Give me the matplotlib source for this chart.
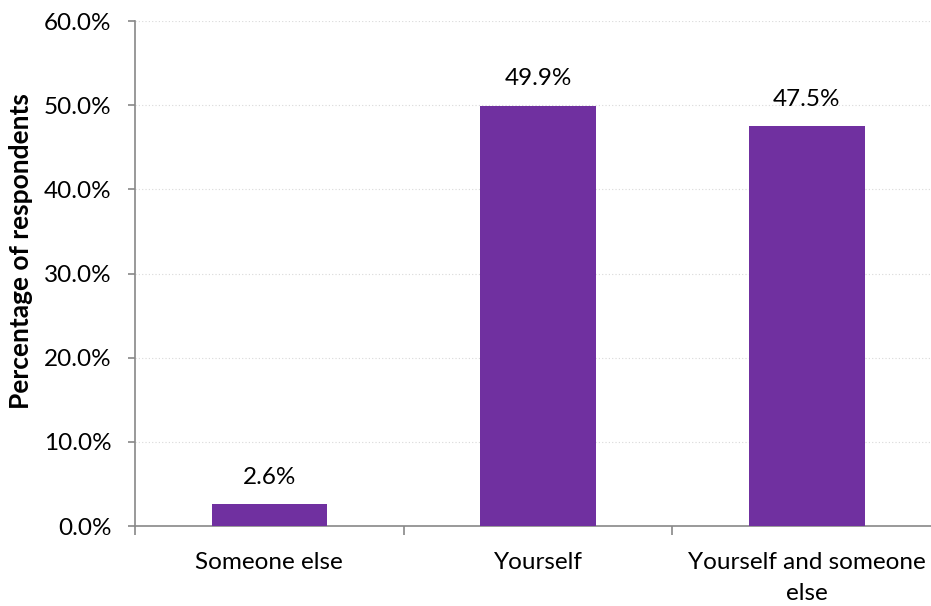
import matplotlib.pyplot as plt
from matplotlib.ticker import FuncFormatter, FixedLocator

categories = ["Someone else", "Yourself", "Yourself and someone\nelse"]
values = [2.6, 49.9, 47.5]
bar_color = "#7030A0"

plt.rcParams["font.family"] = ["Lato", "DejaVu Sans"]

fig = plt.figure(figsize=(9.31, 6.06), dpi=100)
ax = fig.add_axes([0.145, 0.132, 0.866, 0.8333])

x = range(len(categories))
ax.bar(x, values, width=0.43, color=bar_color, zorder=3)
for i, v in enumerate(values):
    ax.annotate(f"{v:.1f}%", (i, v), xytext=(0, 19.5), textcoords="offset points",
                ha="center", va="center", fontsize=17.5)

ax.set_xlim(-0.5, len(categories) - 0.5)
ax.set_ylim(0, 60)
ax.set_yticks(range(0, 61, 10))
ax.yaxis.set_major_formatter(FuncFormatter(lambda v, p: f"{v:.1f}%"))
ax.yaxis.grid(True, linestyle=(0, (1, 2)), color="#d9d9d9", linewidth=0.8, zorder=0)

ax.set_xticks(list(x))
ax.set_xticklabels(categories, linespacing=1.55)
ax.xaxis.set_minor_locator(FixedLocator([-0.5, 0.5, 1.5, 2.5]))
ax.tick_params(axis="x", which="major", length=0, labelsize=17.5, pad=19)
ax.tick_params(axis="x", which="minor", length=6.5, color="#888888", width=1.2)
ax.tick_params(axis="y", labelsize=17.5, length=5, color="#888888", width=1.2, pad=12)

for s in ["top", "right"]:
    ax.spines[s].set_visible(False)
for s in ["left", "bottom"]:
    ax.spines[s].set_color("#888888")
    ax.spines[s].set_linewidth(1.2)

ax.set_ylabel("Percentage of respondents", fontsize=19, fontweight="bold")
ax.yaxis.set_label_coords(-0.127, 0.545)

fig.savefig("out.png", dpi=100)
